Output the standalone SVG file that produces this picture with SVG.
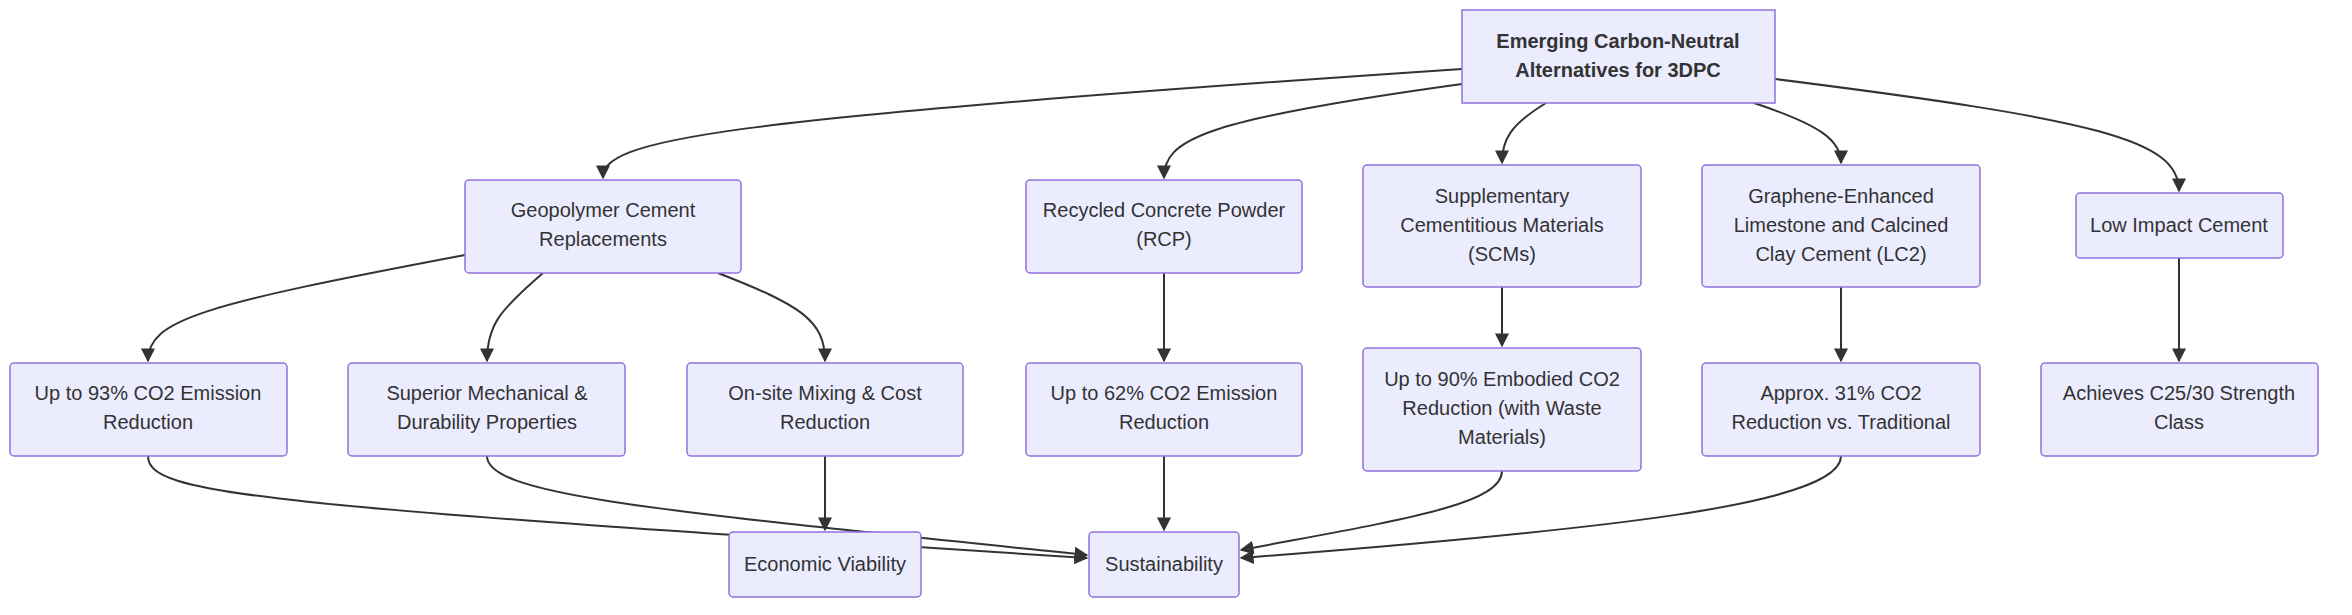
<svg xmlns="http://www.w3.org/2000/svg" width="2352" height="615" viewBox="0 0 2352 615">
<style>
.n rect{fill:#ECECFF;stroke:#9370DB;stroke-width:1.5}
.n text{font-family:"Liberation Sans",Arial,sans-serif;font-size:20px;fill:#333;text-anchor:middle}
.b text{font-weight:bold}
#edges path{fill:none;stroke:#333;stroke-width:2;marker-end:url(#ar)}
</style>
<defs><marker id="ar" viewBox="0 0 10 10" refX="9" refY="5" markerWidth="7" markerHeight="7" orient="auto"><path d="M0,0L10,5L0,10z" fill="#333"/></marker></defs>
<rect width="2352" height="615" fill="#fff"/>
<g id="edges">
<path d="M1462,69 C700,120 603,140 603,178"/>
<path d="M1462,84 C1200,120 1164,140 1164,178"/>
<path d="M1546,103 C1510,125 1502,140 1502,163"/>
<path d="M1754,103 C1820,125 1841,140 1841,163"/>
<path d="M1775,79 C2100,120 2179,140 2179,191"/>
<path d="M465,255 C200,305 148,320 148,361"/>
<path d="M543,273 C500,310 487,325 487,361"/>
<path d="M718,273 C800,305 825,320 825,361"/>
<path d="M1164,273 L1164,361"/>
<path d="M1502,287 L1502,346"/>
<path d="M1841,287 L1841,361"/>
<path d="M2179,258 L2179,361"/>
<path d="M148,456 C148,495 260,505 1087,558"/>
<path d="M487,456 C487,495 650,510 1087,555"/>
<path d="M825,456 L825,530"/>
<path d="M1164,456 L1164,530"/>
<path d="M1502,471 C1502,505 1400,520 1241,550"/>
<path d="M1841,456 C1841,505 1600,530 1241,558"/>
</g>
<g id="root" class="n b"><rect x="1462" y="10" width="313" height="93"/><text x="1618" y="48">Emerging Carbon-Neutral</text><text x="1618" y="77">Alternatives for 3DPC</text></g>
<g id="geo" class="n"><rect x="465" y="180" width="276" height="93" rx="4"/><text x="603" y="217">Geopolymer Cement</text><text x="603" y="246">Replacements</text></g>
<g id="rcp" class="n"><rect x="1026" y="180" width="276" height="93" rx="4"/><text x="1164" y="217">Recycled Concrete Powder</text><text x="1164" y="246">(RCP)</text></g>
<g id="scm" class="n"><rect x="1363" y="165" width="278" height="122" rx="4"/><text x="1502" y="203">Supplementary</text><text x="1502" y="232">Cementitious Materials</text><text x="1502" y="261">(SCMs)</text></g>
<g id="lc2" class="n"><rect x="1702" y="165" width="278" height="122" rx="4"/><text x="1841" y="203">Graphene-Enhanced</text><text x="1841" y="232">Limestone and Calcined</text><text x="1841" y="261">Clay Cement (LC2)</text></g>
<g id="low" class="n"><rect x="2076" y="193" width="207" height="65" rx="4"/><text x="2179" y="232">Low Impact Cement</text></g>
<g id="a" class="n"><rect x="10" y="363" width="277" height="93" rx="4"/><text x="148" y="400">Up to 93% CO2 Emission</text><text x="148" y="429">Reduction</text></g>
<g id="b" class="n"><rect x="348" y="363" width="277" height="93" rx="4"/><text x="487" y="400">Superior Mechanical &amp;</text><text x="487" y="429">Durability Properties</text></g>
<g id="c" class="n"><rect x="687" y="363" width="276" height="93" rx="4"/><text x="825" y="400">On-site Mixing &amp; Cost</text><text x="825" y="429">Reduction</text></g>
<g id="d" class="n"><rect x="1026" y="363" width="276" height="93" rx="4"/><text x="1164" y="400">Up to 62% CO2 Emission</text><text x="1164" y="429">Reduction</text></g>
<g id="e" class="n"><rect x="1363" y="348" width="278" height="123" rx="4"/><text x="1502" y="386">Up to 90% Embodied CO2</text><text x="1502" y="415">Reduction (with Waste</text><text x="1502" y="444">Materials)</text></g>
<g id="f" class="n"><rect x="1702" y="363" width="278" height="93" rx="4"/><text x="1841" y="400">Approx. 31% CO2</text><text x="1841" y="429">Reduction vs. Traditional</text></g>
<g id="g" class="n"><rect x="2041" y="363" width="277" height="93" rx="4"/><text x="2179" y="400">Achieves C25/30 Strength</text><text x="2179" y="429">Class</text></g>
<g id="econ" class="n"><rect x="729" y="532" width="192" height="65" rx="4"/><text x="825" y="571">Economic Viability</text></g>
<g id="sust" class="n"><rect x="1089" y="532" width="150" height="65" rx="4"/><text x="1164" y="571">Sustainability</text></g>
</svg>
